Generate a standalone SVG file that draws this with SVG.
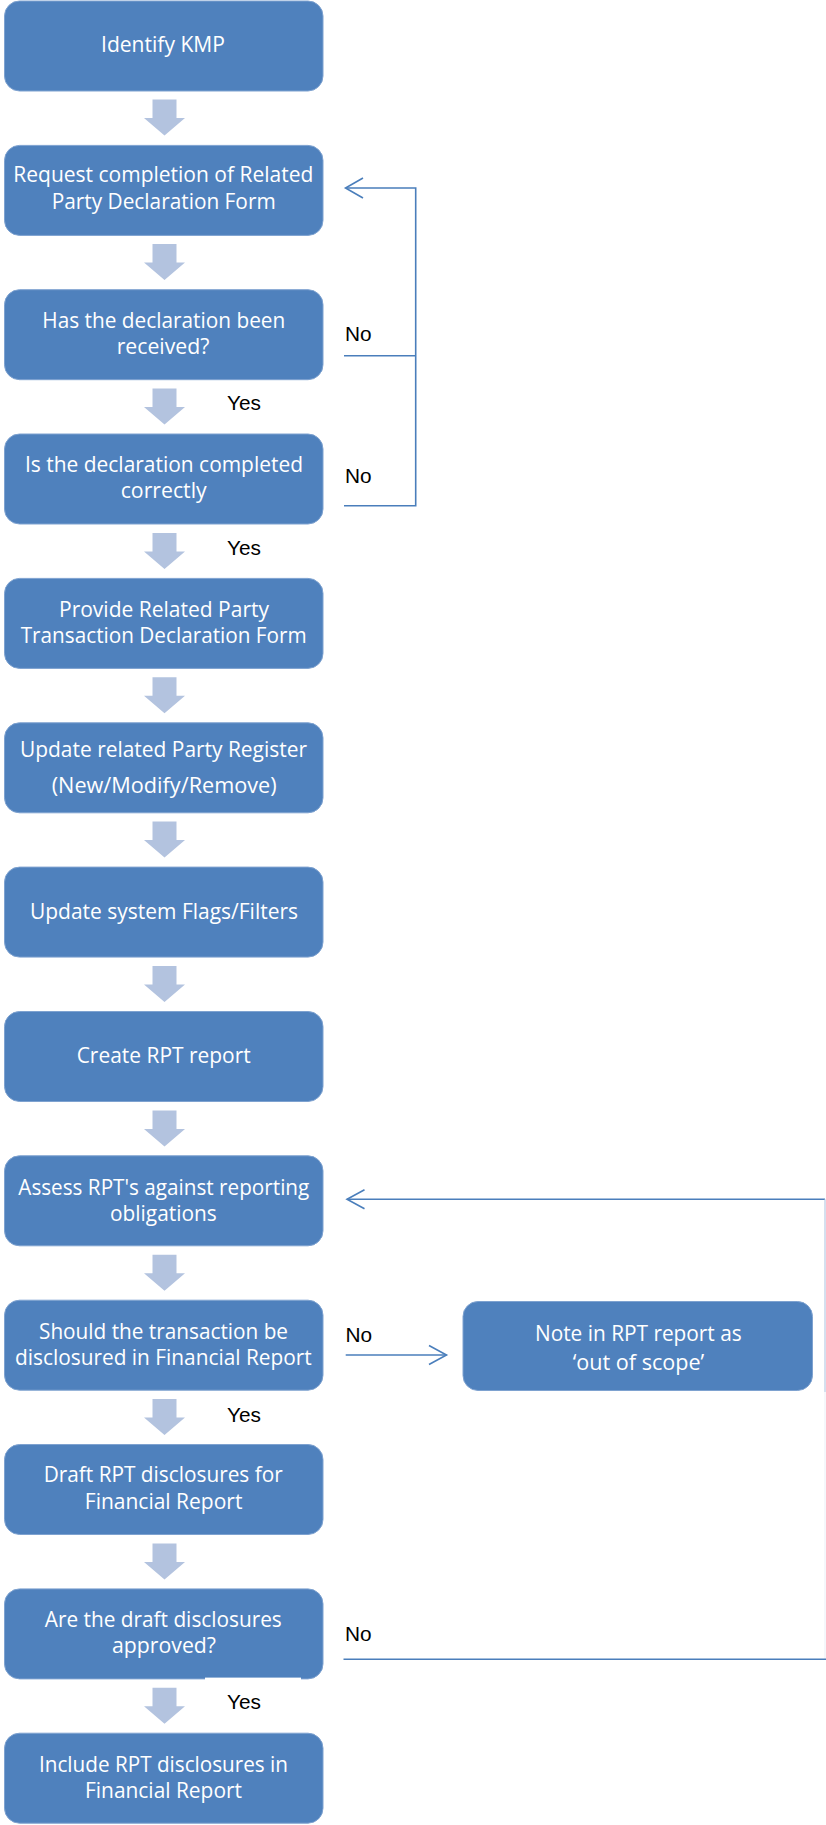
<svg xmlns="http://www.w3.org/2000/svg" width="826" height="1825" viewBox="0 0 826 1825">
<defs>
<style>
.box{fill:#4F81BD;stroke:#7EA2D0;stroke-width:1}
.bt{font-family:"Open Sans","Liberation Sans",sans-serif;font-size:21.5px;fill:#FFFFFF}
.lbl{font-family:"Liberation Sans",Arial,sans-serif;font-size:20.8px;fill:#000000}
.dn{fill:#B3C3DF}
.con{fill:none;stroke:#4A7EBB;stroke-width:1.6}
</style>
<path id="darr" d="M-11.5,0 H12.5 V18.5 H21 L0.5,36 L-20,18.5 H-11.5 Z"/>
</defs>
<rect width="826" height="1825" fill="#FFFFFF"/>

<g id="down-arrows" class="dn">
<use href="#darr" x="164" y="99.5"/>
<use href="#darr" x="164" y="244"/>
<use href="#darr" x="164" y="388.5"/>
<use href="#darr" x="164" y="533"/>
<use href="#darr" x="164" y="677.3"/>
<use href="#darr" x="164" y="821.6"/>
<use href="#darr" x="164" y="966"/>
<use href="#darr" x="164" y="1110.5"/>
<use href="#darr" x="164" y="1254.7"/>
<use href="#darr" x="164" y="1399"/>
<use href="#darr" x="164" y="1543.4"/>
<use href="#darr" x="164" y="1687.7"/>
</g>

<g id="n1"><rect class="box" x="4.5" y="1" width="318.5" height="90" rx="15"/>
<text class="bt" x="101" y="52.3" textLength="124" lengthAdjust="spacingAndGlyphs">Identify KMP</text></g>

<g id="n2"><rect class="box" x="4.5" y="145.4" width="318.5" height="90" rx="15"/>
<text class="bt" x="13.3" y="182.3" textLength="300" lengthAdjust="spacingAndGlyphs">Request completion of Related</text>
<text class="bt" x="51.7" y="209.3" textLength="224" lengthAdjust="spacingAndGlyphs">Party Declaration Form</text></g>

<g id="n3"><rect class="box" x="4.5" y="289.7" width="318.5" height="90" rx="15"/>
<text class="bt" x="42.3" y="327.7" textLength="243" lengthAdjust="spacingAndGlyphs">Has the declaration been</text>
<text class="bt" x="116.7" y="354" textLength="92.6" lengthAdjust="spacingAndGlyphs">received?</text></g>

<g id="n4"><rect class="box" x="4.5" y="434" width="318.5" height="90" rx="15"/>
<text class="bt" x="25" y="471.7" textLength="278" lengthAdjust="spacingAndGlyphs">Is the declaration completed</text>
<text class="bt" x="120.7" y="498.3" textLength="86" lengthAdjust="spacingAndGlyphs">correctly</text></g>

<g id="n5"><rect class="box" x="4.5" y="578.4" width="318.5" height="90" rx="15"/>
<text class="bt" x="59" y="616.7" textLength="210" lengthAdjust="spacingAndGlyphs">Provide Related Party</text>
<text class="bt" x="20.7" y="643.3" textLength="286" lengthAdjust="spacingAndGlyphs">Transaction Declaration Form</text></g>

<g id="n6"><rect class="box" x="4.5" y="722.8" width="318.5" height="90" rx="15"/>
<text class="bt" x="20" y="756.5" textLength="287" lengthAdjust="spacingAndGlyphs">Update related Party Register</text>
<text class="bt" x="51.7" y="793" textLength="225" lengthAdjust="spacingAndGlyphs">(New/Modify/Remove)</text></g>

<g id="n7"><rect class="box" x="4.5" y="867.1" width="318.5" height="90" rx="15"/>
<text class="bt" x="30" y="919" textLength="268" lengthAdjust="spacingAndGlyphs">Update system Flags/Filters</text></g>

<g id="n8"><rect class="box" x="4.5" y="1011.5" width="318.5" height="90" rx="15"/>
<text class="bt" x="76.7" y="1062.7" textLength="174" lengthAdjust="spacingAndGlyphs">Create RPT report</text></g>

<g id="n9"><rect class="box" x="4.5" y="1155.8" width="318.5" height="90" rx="15"/>
<text class="bt" x="18.3" y="1195" textLength="291" lengthAdjust="spacingAndGlyphs">Assess RPT's against reporting</text>
<text class="bt" x="110" y="1220.5" textLength="106.7" lengthAdjust="spacingAndGlyphs">obligations</text></g>

<g id="n10"><rect class="box" x="4.5" y="1300.2" width="318.5" height="90" rx="15"/>
<text class="bt" x="39" y="1339.3" textLength="249" lengthAdjust="spacingAndGlyphs">Should the transaction be</text>
<text class="bt" x="15" y="1365" textLength="296.7" lengthAdjust="spacingAndGlyphs">disclosured in Financial Report</text></g>

<g id="n-note"><rect class="box" x="463" y="1301.5" width="349.5" height="89" rx="15"/>
<text class="bt" x="535" y="1340.7" textLength="206.7" lengthAdjust="spacingAndGlyphs">Note in RPT report as</text>
<text class="bt" x="572.7" y="1370" textLength="131.6" lengthAdjust="spacingAndGlyphs">‘out of scope’</text></g>

<g id="n11"><rect class="box" x="4.5" y="1444.5" width="318.5" height="90" rx="15"/>
<text class="bt" x="43.7" y="1481.7" textLength="239" lengthAdjust="spacingAndGlyphs">Draft RPT disclosures for</text>
<text class="bt" x="84.8" y="1509.3" textLength="157.6" lengthAdjust="spacingAndGlyphs">Financial Report</text></g>

<g id="n12"><rect class="box" x="4.5" y="1588.9" width="318.5" height="90" rx="15"/>
<text class="bt" x="44.8" y="1627.3" textLength="237" lengthAdjust="spacingAndGlyphs">Are the draft disclosures</text>
<text class="bt" x="112" y="1653.3" textLength="104" lengthAdjust="spacingAndGlyphs">approved?</text>
<rect x="205" y="1677.6" width="96" height="3.5" fill="#FFFFFF"/></g>

<g id="n13"><rect class="box" x="4.5" y="1733.2" width="318.5" height="90" rx="15"/>
<text class="bt" x="39" y="1771.7" textLength="249" lengthAdjust="spacingAndGlyphs">Include RPT disclosures in</text>
<text class="bt" x="85" y="1798.3" textLength="157" lengthAdjust="spacingAndGlyphs">Financial Report</text></g>

<g id="connectors">
<path class="con" d="M344,355.7 H415.7"/>
<path class="con" d="M344,505.7 H415.7 V188 H346"/>
<path class="con" d="M363,178 L345.5,188 L363,198"/>
<path class="con" d="M345.7,1355 H446.5"/>
<path class="con" d="M429,1345.5 L446.5,1355 L429,1364.5"/>
<path class="con" d="M825,1199.3 H347.5"/>
<path class="con" d="M364.5,1189.8 L347,1199.3 L364.5,1208.8"/>
<path d="M825,1199.3 V1392" fill="none" stroke="#B9CBE4" stroke-width="1.2"/>
<path d="M825,1392 V1659" fill="none" stroke="#EEF2F8" stroke-width="1.2"/>
<path class="con" d="M343.5,1659.3 H826"/>
</g>

<g id="labels">
<text class="lbl" x="345" y="340.7">No</text>
<text class="lbl" x="345" y="482.7">No</text>
<text class="lbl" x="345.5" y="1341.7">No</text>
<text class="lbl" x="345" y="1641">No</text>
<text class="lbl" x="227" y="410">Yes</text>
<text class="lbl" x="227" y="555">Yes</text>
<text class="lbl" x="227" y="1421.5">Yes</text>
<text class="lbl" x="227" y="1709.3">Yes</text>
</g>
</svg>
